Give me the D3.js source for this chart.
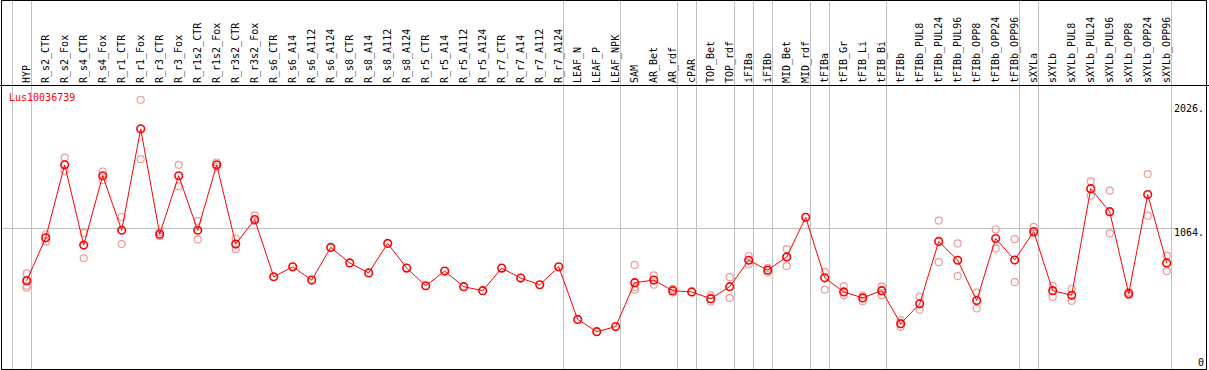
<!DOCTYPE html>
<html>
<head>
<meta charset="utf-8">
<script src="https://cdn.jsdelivr.net/npm/d3@7"></script>
<style>
  body { margin: 0; background: #fff; }
  svg { display: block; }
  text { font-family: "DejaVu Sans Mono", monospace; font-size: 10px; }
</style>
</head>
<body>
<div id="chart"></div>
<script>
// Data
var geneName = "Lus10036739";

var categories = ["HYP", "R_s2_CTR", "R_s2_Fox", "R_s4_CTR", "R_s4_Fox", "R_r1_CTR", "R_r1_Fox",
  "R_r3_CTR", "R_r3_Fox", "R_r1s2_CTR", "R_r1s2_Fox", "R_r3s2_CTR", "R_r3s2_Fox",
  "R_s6_CTR", "R_s6_A14", "R_s6_A112", "R_s6_A124", "R_s8_CTR", "R_s8_A14", "R_s8_A112", "R_s8_A124",
  "R_r5_CTR", "R_r5_A14", "R_r5_A112", "R_r5_A124", "R_r7_CTR", "R_r7_A14", "R_r7_A112", "R_r7_A124",
  "LEAF_N", "LEAF_P", "LEAF_NPK", "SAM", "AR_Bet", "AR_rdf", "cPAR", "TOP_Bet", "TOP_rdf",
  "iFIBa", "iFIBb", "MID_Bet", "MID_rdf", "tFIBa", "tFIB_Gr", "tFIB_Li", "tFIB_Bi",
  "tFIBb", "tFIBb_PUL8", "tFIBb_PUL24", "tFIBb_PUL96", "tFIBb_OPP8", "tFIBb_OPP24", "tFIBb_OPP96",
  "sXYLa", "sXYLb", "sXYLb_PUL8", "sXYLb_PUL24", "sXYLb_PUL96", "sXYLb_OPP8", "sXYLb_OPP24", "sXYLb_OPP96"];

// mean expression per condition
var means = [654, 987, 1554, 931, 1469, 1046, 1833, 1015, 1469, 1046, 1554, 939, 1129,
  685, 762, 659, 913, 792, 715, 944, 752, 615, 729, 608, 577, 752, 675, 623, 762,
  354, 259, 298, 639, 659, 577, 567, 515, 608, 813, 736, 839, 1146, 677, 567, 521, 577,
  321, 475, 959, 813, 500, 982, 815, 1036, 577, 541, 1369, 1190, 554, 1323, 792];

// individual replicates per condition
var replicates = [[712, 662, 615, 600], [1015, 956], [1610, 1508], [1025, 829], [1502, 1436],
  [1149, 939], [2059, 1598], [1031, 1000], [1554, 1387], [1118, 975], [1572, 1539], [982, 898],
  [1162, 1118], [], [], [], [], [], [], [], [], [], [], [], [], [], [], [], [],
  [], [], [], [777, 605, 585], [695, 623], [592, 562], [], [541, 492], [682, 521],
  [846, 782], [752, 718], [900, 767], [], [723, 585], [610, 541], [539, 495], [610, 541],
  [346, 295], [531, 428], [1121, 798], [944, 690], [562, 439], [1052, 905], [977, 644],
  [1072, 1021], [615, 528], [592, 498], [1426, 1313], [1354, 1021], [567, 539], [1482, 1159], [849, 729]];

// conditions after which a group divider is drawn
var groupEnds = ["HYP", "R_r7_A124", "LEAF_NPK", "AR_rdf", "cPAR", "TOP_rdf", "iFIBa", "iFIBb",
  "MID_rdf", "tFIBa", "tFIB_Bi", "tFIBb_OPP96", "sXYLa", "sXYLb_OPP96"];

var tickValues = [0, 1064, 2026];
var tickLabels = ["0", "1064.", "2026."];

var width = 1209, height = 370;
var headerY = 85.5, bottomY = 369.5;

var svg = d3.select("#chart").append("svg")
  .attr("width", width)
  .attr("height", height);

var x = d3.scalePoint()
  .domain(categories)
  .range([26.7, 1166.7]);
var step = x.step();

var y = d3.scaleLinear()
  .domain([0, 2026])
  .range([365, 104]);

// group dividers (first one sits before the first column)
var dividers = [x(categories[0]) - step + 4].concat(groupEnds.map(function(c) { return x(c) + 4; }));
svg.selectAll(".divider")
  .data(dividers)
  .enter().append("line")
  .attr("x1", function(d) { return Math.round(d) + 0.5; })
  .attr("x2", function(d) { return Math.round(d) + 0.5; })
  .attr("y1", 0)
  .attr("y2", bottomY)
  .attr("stroke", "#c0c0c0");

// horizontal reference at the middle tick
svg.append("line")
  .attr("x1", 1).attr("x2", 1177)
  .attr("y1", Math.round(y(1064)) + 0.5).attr("y2", Math.round(y(1064)) + 0.5)
  .attr("stroke", "#c0c0c0");

// frame
svg.append("rect")
  .attr("x", 1.5).attr("y", 0.5)
  .attr("width", 1205).attr("height", bottomY - 0.5)
  .attr("fill", "none").attr("stroke", "#000");
svg.append("line")
  .attr("x1", 0).attr("x2", width)
  .attr("y1", headerY).attr("y2", headerY)
  .attr("stroke", "#000");

// column labels, vertical
svg.selectAll(".colLabel")
  .data(categories)
  .enter().append("text")
  .attr("transform", function(d) { return "translate(" + x(d) + ",83) rotate(-90)"; })
  .attr("dy", "0.35em")
  .attr("fill", "#000")
  .text(function(d) { return d; });

// value labels on the right
svg.selectAll(".tickLabel")
  .data(tickValues)
  .enter().append("text")
  .attr("x", 1204)
  .attr("y", function(d) { return d === 0 ? 366 : y(d) + 8; })
  .attr("text-anchor", "end")
  .attr("fill", "#000")
  .text(function(d, i) { return tickLabels[i]; });

// gene name
svg.append("text")
  .attr("x", 9).attr("y", 101)
  .attr("fill", "#ff0000")
  .text(geneName);

// replicate points
var repPoints = [];
categories.forEach(function(c, i) {
  replicates[i].forEach(function(v) { repPoints.push({cat: c, value: v}); });
});
svg.selectAll(".rep")
  .data(repPoints)
  .enter().append("circle")
  .attr("cx", function(d) { return x(d.cat); })
  .attr("cy", function(d) { return y(d.value); })
  .attr("r", 3.5)
  .attr("fill", "none")
  .attr("stroke", "#f09a9a")
  .attr("stroke-width", 1.2);

// mean line
var line = d3.line()
  .x(function(d, i) { return x(categories[i]); })
  .y(function(d) { return y(d); });
svg.append("path")
  .datum(means)
  .attr("d", line)
  .attr("fill", "none")
  .attr("stroke", "#ff0000")
  .attr("stroke-width", 1);

svg.selectAll(".mean")
  .data(means)
  .enter().append("circle")
  .attr("cx", function(d, i) { return x(categories[i]); })
  .attr("cy", function(d) { return y(d); })
  .attr("r", 3.8)
  .attr("fill", "none")
  .attr("stroke", "#ff0000")
  .attr("stroke-width", 1.6);
</script>
</body>
</html>
